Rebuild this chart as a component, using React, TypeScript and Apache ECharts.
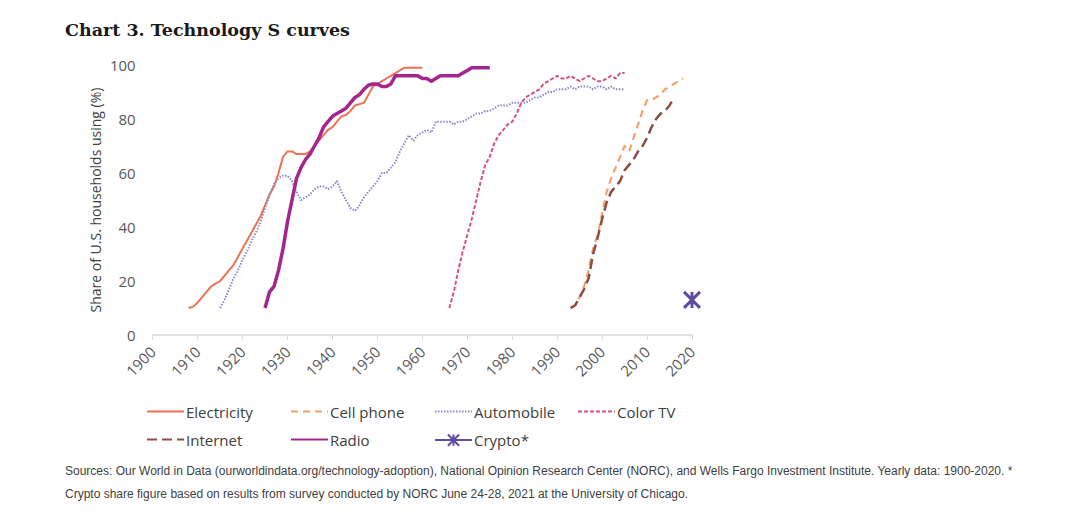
import React, { useEffect, useRef } from "react";
import * as echarts from "echarts";

const titleText = "Chart 3. Technology S curves";
const yAxisTitle = "Share of U.S. households using (%)";
const footnoteLines = [
  "Sources: Our World in Data (ourworldindata.org/technology-adoption), National Opinion Research Center (NORC), and Wells Fargo Investment Institute. Yearly data: 1900-2020. *",
  "Crypto share figure based on results from survey conducted by NORC June 24-28, 2021 at the University of Chicago.",
];

const xMin = 1900;
const xMax = 2020;
const xStep = 10;
const yMin = 0;
const yMax = 100;
const yStep = 20;

const electricityStart = 1908;
const electricityValues = [
  10, 10.5, 12, 14, 16, 18, 19, 20, 22, 24,
  26, 29, 32, 35, 38, 41, 44, 48, 52, 55,
  60, 66, 68, 68, 67, 67, 67, 68, 70, 72,
  74, 76, 77, 79, 81, 81.5, 83, 85, 85.5, 86,
  89, 92, 93, 94, 95, 96, 97, 98, 99, 99,
  99, 99, 99,
];

const cellPhoneStart = 1993;
const cellPhoneValues = [
  10, 11, 14, 18, 24, 32, 37, 45, 53, 58,
  62, 66, 70, 68, 73, 78, 83, 87, 87, 88,
  89, 91, 92, 93, 94, 95,
];

const automobileStart = 1915;
const automobileValues = [
  10, 13, 17, 21, 24, 28, 31, 35, 38, 42,
  47, 52, 56, 58, 59, 59, 57, 53, 50, 51,
  52, 54, 55, 55, 54, 55, 57, 53, 50, 47,
  46, 48, 51, 53, 55, 57, 60, 60, 62, 64,
  68, 71, 74, 72, 74, 75, 76, 75, 79, 79,
  79, 79, 78, 79, 79, 80, 81, 82, 82, 83,
  83, 84, 85, 85, 85, 86, 86, 86, 86, 87,
  88, 88, 89, 90, 90, 91, 91, 91, 92, 91,
  92, 92, 92, 91, 92, 92, 91, 92, 91, 91,
  91,
];

const colorTvStart = 1966;
const colorTvValues = [
  10, 16, 24, 31, 37, 43, 50, 57, 63, 66,
  71, 74, 76, 78, 79, 82, 86, 88, 89, 90,
  91, 93, 94, 95, 96, 95, 95, 96, 95, 94,
  95, 96, 95, 94, 94, 95, 96, 95, 97, 97,
];

const internetStart = 1993;
const internetValues = [
  10, 11, 14, 17, 21, 30, 36, 43, 49, 53,
  55, 57, 61, 63, 65, 68, 70, 73, 77, 80,
  82, 83, 85, 88,
];

const radioStart = 1925;
const radioValues = [
  10, 16, 18, 24, 32, 42, 50, 58, 62, 65,
  67, 70, 73, 77, 79, 81, 82, 83, 84, 86,
  88, 89, 91, 92.5, 93, 93, 92, 92, 93, 96,
  96, 96, 96, 96, 96, 95, 95, 94, 95, 96,
  96, 96, 96, 96, 97, 98, 99, 99, 99, 99,
  99,
];

const cryptoYear = 2020;
const cryptoValue = 13;

const legendRow1 = ["Electricity", "Cell phone", "Automobile", "Color TV"];
const legendRow2 = ["Internet", "Radio", "Crypto*"];
const markerSeries = ["Crypto*"];

const toPairs = (start: number, values: number[]) =>
  values.map((v, i) => [start + i, v]);

const FONT = '"Open Sans", "Liberation Sans", sans-serif';

export default function App() {
  const ref = useRef<HTMLDivElement>(null);

  useEffect(() => {
    if (!ref.current) return;
    const chart = echarts.init(ref.current, undefined, { renderer: "svg" });

    const lineSeries = (
      name: string,
      data: number[][],
      color: string,
      width: number,
      type: any
    ) => ({
      name,
      type: "line",
      data,
      symbol: "none",
      showSymbol: false,
      itemStyle: { color },
      lineStyle: { color, width, type, cap: "butt", join: "round" },
      emphasis: { disabled: true },
    });

    const colLeft = [146, 290, 434, 577];
    const rowTop = [404, 432];
    const legends: any[] = [];
    [legendRow1, legendRow2].forEach((row, r) => {
      row.forEach((name, c) => {
        legends.push({
          left: colLeft[c],
          top: rowTop[r],
          itemWidth: 37,
          itemHeight: 14,
          itemGap: 0,
          padding: 0,
          selectedMode: false,
          data: [
            markerSeries.includes(name)
              ? { name }
              : { name, itemStyle: { opacity: 0 } },
          ],
          textStyle: {
            fontFamily: FONT,
            fontSize: 15,
            color: "#404040",
            padding: [0, 0, 0, -3],
          },
        });
      });
    });

    const option: any = {
      animation: false,
      backgroundColor: "#ffffff",
      grid: { left: 152.7, top: 65, width: 539.3, height: 270 },
      xAxis: {
        type: "value",
        min: xMin,
        max: xMax,
        interval: xStep,
        axisLine: { show: true, lineStyle: { color: "#D9D9D9", width: 1.5 } },
        axisTick: { show: true, length: 5, lineStyle: { color: "#D9D9D9" } },
        splitLine: { show: false },
        axisLabel: {
          rotate: 45,
          margin: 14,
          fontFamily: FONT,
          fontSize: 15,
          color: "#595959",
          formatter: (v: number) => String(v),
        },
      },
      yAxis: {
        type: "value",
        min: yMin,
        max: yMax,
        interval: yStep,
        name: yAxisTitle,
        nameLocation: "middle",
        nameGap: 50,
        nameTextStyle: { fontFamily: FONT, fontSize: 14, color: "#404040" },
        axisLine: { show: false },
        axisTick: { show: false },
        splitLine: { show: false },
        axisLabel: {
          margin: 17,
          fontFamily: FONT,
          fontSize: 15,
          color: "#595959",
        },
      },
      legend: legends,
      graphic: [
        {
          type: "text",
          left: 65,
          top: 21,
          style: {
            text: titleText,
            font: 'bold 17.5px "DejaVu Serif", "Liberation Serif", serif',
            fill: "#1a1a1a",
          },
        },
        ...footnoteLines.map((t, i) => ({
          type: "text",
          left: 65,
          top: 465 + i * 23,
          style: {
            text: t,
            font: '12px "Liberation Sans", sans-serif',
            fill: "#404040",
          },
        })),
      ],
      series: [
        lineSeries("Electricity", toPairs(electricityStart, electricityValues), "#EB7352", 2, "solid"),
        lineSeries("Cell phone", toPairs(cellPhoneStart, cellPhoneValues), "#F5A06B", 2.2, [7, 5]),
        lineSeries("Automobile", toPairs(automobileStart, automobileValues), "#8787CF", 2, [1.5, 1.5]),
        lineSeries("Color TV", toPairs(colorTvStart, colorTvValues), "#D5527E", 2, [4, 2]),
        lineSeries("Internet", toPairs(internetStart, internetValues), "#8E4D42", 2.5, [10, 5]),
        lineSeries("Radio", toPairs(radioStart, radioValues), "#A3268F", 3.5, "solid"),
        {
          name: "Crypto*",
          type: "line",
          data: [[cryptoYear, cryptoValue]],
          symbol: "path://M0,0L10,10M10,0L0,10M5,0L5,10",
          symbolSize: 16,
          showSymbol: true,
          itemStyle: { color: "none", borderColor: "#5A4EA6", borderWidth: 3 },
          lineStyle: { color: "#5A4EA6", width: 2.5 },
          emphasis: { disabled: true },
        },
      ],
    };

    chart.setOption(option);
    return () => chart.dispose();
  }, []);

  return (
    <div
      ref={ref}
      style={{ position: "absolute", left: 0, top: 0, width: 1080, height: 520 }}
    />
  );
}
